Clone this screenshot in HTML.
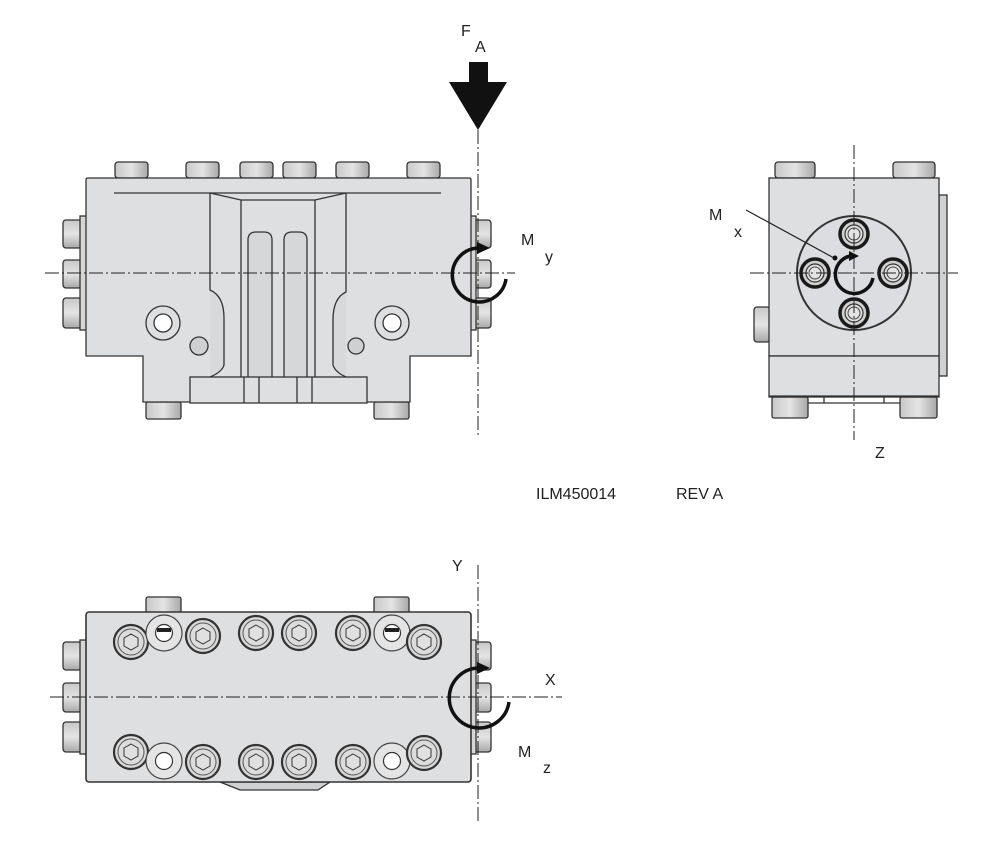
<!DOCTYPE html>
<html><head><meta charset="utf-8"><style>
html,body{margin:0;padding:0;background:#fff;}
svg{display:block;}
text{font-family:"Liberation Sans",sans-serif;fill:#222;}
</style></head><body>
<svg width="1001" height="844" viewBox="0 0 1001 844" xmlns="http://www.w3.org/2000/svg">
<defs>
<linearGradient id="cap" x1="0" x2="1" y1="0" y2="0">
<stop offset="0" stop-color="#c8c8c8"/><stop offset="0.5" stop-color="#e4e4e4"/><stop offset="1" stop-color="#a8a8a8"/>
</linearGradient>
<linearGradient id="capv" x1="0" x2="0" y1="0" y2="1">
<stop offset="0" stop-color="#c8c8c8"/><stop offset="0.5" stop-color="#e4e4e4"/><stop offset="1" stop-color="#a8a8a8"/>
</linearGradient>
<g id="screw">
<circle r="17" fill="#d8d8d8" stroke="#333" stroke-width="2.2"/>
<circle r="13" fill="#dcdcdc" stroke="#555" stroke-width="1"/>
<polygon points="0,-8 7,-4 7,4 0,8 -7,4 -7,-4" fill="#e0e0e0" stroke="#333" stroke-width="1"/>
</g>
<g id="washer">
<circle r="18" fill="#e4e4e4" stroke="#444" stroke-width="1.2"/>
<circle r="8.5" fill="#fff" stroke="#333" stroke-width="1.2"/>
</g>
<g id="sbolt">
<circle r="14" fill="#d0d0d0" stroke="#1a1a1a" stroke-width="3.5"/>
<circle r="9" fill="#e0e0e0" stroke="#333" stroke-width="1.2"/>
<circle r="6" fill="#e4e4e4" stroke="#444" stroke-width="1"/>
</g>
</defs>
<g stroke="#333" stroke-width="1.3">
<!-- ===== FRONT VIEW ===== -->
<g fill="url(#cap)">
<rect x="115" y="162" width="33" height="16" rx="3"/>
<rect x="186" y="162" width="33" height="16" rx="3"/>
<rect x="240" y="162" width="33" height="16" rx="3"/>
<rect x="283" y="162" width="33" height="16" rx="3"/>
<rect x="336" y="162" width="33" height="16" rx="3"/>
<rect x="407" y="162" width="33" height="16" rx="3"/>
<rect x="146" y="402" width="35" height="17" rx="2"/>
<rect x="374" y="402" width="35" height="17" rx="2"/>
</g>
<g fill="url(#capv)">
<rect x="63" y="220" width="19" height="28" rx="3"/>
<rect x="63" y="260" width="19" height="28" rx="3"/>
<rect x="63" y="298" width="19" height="30" rx="3"/>
<rect x="473" y="220" width="18" height="28" rx="3"/>
<rect x="473" y="260" width="18" height="28" rx="3"/>
<rect x="473" y="298" width="18" height="30" rx="3"/>
</g>
<rect x="80" y="216" width="7" height="114" fill="#d6d6d6"/>
<rect x="470" y="216" width="6" height="114" fill="#d6d6d6"/>
<path d="M88,178 H469 Q471,178 471,180 V356 H410 V402 H143 V356 H86 V180 Q86,178 88,178 Z" fill="#dedfe1"/>
<line x1="114" y1="193" x2="441" y2="193"/>
<path d="M210,193 V290 Q224,296 224,318 V365 Q222,372 210,377" fill="#d8d9db"/>
<path d="M346,193 V292 Q333,298 333,320 V365 Q335,372 346,377" fill="#d8d9db"/>
<path d="M210,193 L241,200 H315 L346,193" fill="none"/>
<line x1="241" y1="200" x2="241" y2="377"/>
<line x1="315" y1="200" x2="315" y2="377"/>
<path d="M248,377 V240 Q248,232 256,232 H264 Q272,232 272,240 V377" fill="#d6d7d9"/>
<path d="M284,377 V240 Q284,232 292,232 H299 Q307,232 307,240 V377" fill="#d6d7d9"/>
<rect x="190" y="377" width="177" height="26" fill="#dedfe1"/>
<line x1="244" y1="377" x2="244" y2="403"/><line x1="259" y1="377" x2="259" y2="403"/>
<line x1="297" y1="377" x2="297" y2="403"/><line x1="312" y1="377" x2="312" y2="403"/>
<circle cx="163" cy="323" r="17" fill="#dedfe1"/><circle cx="163" cy="323" r="9" fill="#fff"/>
<circle cx="392" cy="323" r="17" fill="#dedfe1"/><circle cx="392" cy="323" r="9" fill="#fff"/>
<circle cx="199" cy="346" r="9" fill="#cfd0d2"/>
<circle cx="356" cy="346" r="8" fill="#cfd0d2"/>

<!-- ===== SIDE VIEW ===== -->
<g fill="url(#cap)">
<rect x="775" y="162" width="40" height="16" rx="3"/>
<rect x="893" y="162" width="42" height="16" rx="3"/>
<rect x="772" y="397" width="36" height="21" rx="2"/>
<rect x="900" y="397" width="37" height="21" rx="2"/>
</g>
<rect x="754" y="307" width="16" height="35" rx="3" fill="url(#capv)"/>
<rect x="939" y="195" width="8" height="181" fill="#cfd0d2"/>
<rect x="769" y="178" width="170" height="178" fill="#dedfe1"/>
<rect x="769" y="356" width="170" height="41" fill="#dedfe1"/>
<line x1="769" y1="396" x2="939" y2="396"/>
<line x1="824" y1="396" x2="824" y2="403"/><line x1="884" y1="396" x2="884" y2="403"/>
<line x1="808" y1="403" x2="900" y2="403"/>
<circle cx="854" cy="273" r="57" fill="#dcdde0" stroke-width="2"/>
<use href="#sbolt" x="854" y="234"/>
<use href="#sbolt" x="815" y="273"/>
<use href="#sbolt" x="893" y="273"/>
<use href="#sbolt" x="854" y="313"/>

<!-- ===== BOTTOM VIEW ===== -->
<g fill="url(#cap)">
<rect x="146" y="597" width="35" height="16" rx="2"/>
<rect x="374" y="597" width="35" height="16" rx="2"/>
</g>
<g fill="url(#capv)">
<rect x="63" y="642" width="19" height="28" rx="3"/>
<rect x="63" y="683" width="19" height="29" rx="3"/>
<rect x="63" y="722" width="19" height="30" rx="3"/>
<rect x="473" y="642" width="18" height="28" rx="3"/>
<rect x="473" y="683" width="18" height="29" rx="3"/>
<rect x="473" y="722" width="18" height="30" rx="3"/>
</g>
<rect x="80" y="640" width="7" height="114" fill="#d6d6d6"/>
<rect x="470" y="640" width="6" height="114" fill="#d6d6d6"/>
<path d="M220,782 L240,790 H318 L330,782 Z" fill="#cfd0d2"/>
<rect x="86" y="612" width="385" height="170" rx="3" fill="#dedfe1" stroke-width="1.6"/>
</g>
<use href="#screw" x="131" y="642"/><use href="#washer" x="164" y="633"/>
<rect x="157" y="628" width="14" height="4" fill="#222"/>
<use href="#screw" x="203" y="636"/><use href="#screw" x="256" y="633"/>
<use href="#screw" x="299" y="633"/><use href="#screw" x="353" y="633"/>
<use href="#washer" x="392" y="633"/>
<rect x="385" y="628" width="14" height="4" fill="#222"/>
<use href="#screw" x="424" y="642"/>
<use href="#screw" x="131" y="752"/><use href="#washer" x="164" y="761"/>
<use href="#screw" x="203" y="762"/><use href="#screw" x="256" y="762"/>
<use href="#screw" x="299" y="762"/><use href="#screw" x="353" y="762"/>
<use href="#washer" x="392" y="761"/><use href="#screw" x="424" y="753"/>

<!-- centerlines -->
<g stroke="#222" stroke-width="1" stroke-dasharray="14,3,2,3" fill="none">
<line x1="45" y1="273" x2="515" y2="273"/>
<line x1="478" y1="130" x2="478" y2="436"/>
<line x1="750" y1="273" x2="958" y2="273"/>
<line x1="854" y1="145" x2="854" y2="440"/>
<line x1="50" y1="697" x2="562" y2="697"/>
<line x1="478" y1="565" x2="478" y2="822"/>
</g>

<!-- force arrow -->
<polygon points="469,62 488,62 488,82 507,82 478,130 449,82 469,82" fill="#111"/>

<!-- moment arcs -->
<g fill="none" stroke="#111" stroke-width="3.5">
<path d="M506,279 A27,27 0 1 1 478,248"/>
<path d="M509,702 A30,30 0 1 1 478,668"/>
<path d="M873,278 A19,19 0 1 1 850,256"/>
</g>
<polygon points="477,242 490,248 477,254" fill="#111"/>
<polygon points="477,662 490,668 477,674" fill="#111"/>
<polygon points="849,251 859,256 849,261" fill="#111"/>
<line x1="746" y1="210" x2="834" y2="258" stroke="#222" stroke-width="1.2"/>
<circle cx="835" cy="258" r="2.5" fill="#111"/>

<!-- labels -->
<g font-size="16">
<text x="461" y="36">F</text><text x="475" y="52">A</text>
<text x="521" y="245">M</text><text x="545" y="262">y</text>
<text x="709" y="220">M</text><text x="734" y="237">x</text>
<text x="875" y="458">Z</text>
<text x="536" y="499">ILM450014</text><text x="676" y="499">REV A</text>
<text x="452" y="571">Y</text>
<text x="545" y="685">X</text>
<text x="518" y="757">M</text><text x="543" y="773">z</text>
</g>
</svg>
</body></html>
